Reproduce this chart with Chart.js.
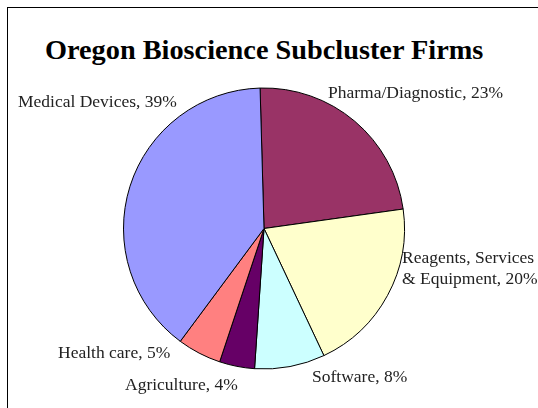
<!DOCTYPE html>
<html><head><meta charset="utf-8">
<script src="https://cdn.jsdelivr.net/npm/chart.js@4"></script>
<style>
html,body{margin:0;padding:0;background:#fff;}
#wrap{position:relative;width:538px;height:408px;overflow:hidden;}
#frame{position:absolute;left:7px;top:7px;width:600px;height:500px;border-left:1px solid #000;border-top:1px solid #000;}
#title{position:absolute;left:45px;top:36px;font:bold 28.3px "Liberation Serif",serif;color:#000;white-space:nowrap;line-height:1;}
canvas{position:absolute;left:0;top:0;}
</style></head>
<body><div id="wrap"><div id="frame"></div>
<div id="title">Oregon Bioscience Subcluster Firms</div>
<canvas id="c" width="538" height="408"></canvas></div>
<script>
const categories = ["Pharma/Diagnostic","Reagents, Services & Equipment","Software","Agriculture","Health care","Medical Devices"];
const shares = [23,20,8,4,5,39];
const colors = ["#993366","#FFFFCC","#CCFFFF","#660066","#FF8080","#9999FF"];
const labelLines = [["Pharma/Diagnostic, 23%"],["Reagents, Services","& Equipment, 20%"],["Software, 8%"],["Agriculture, 4%"],["Health care, 5%"],["Medical Devices, 39%"]];
const labelPos = [[328,93,"left"],[402,258,"left"],[312,377,"left"],[125,385,"left"],[58,353,"left"],[18,102,"left"]];

const labelPlugin = {
  id:'lbl',
  afterDatasetsDraw(chart){
    const ctx = chart.ctx;
    ctx.save();
    ctx.font = '17.5px "Liberation Serif", serif';
    ctx.fillStyle = '#222';
    ctx.textBaseline = 'middle';
    labelLines.forEach((lines,i)=>{
      const [x,y,al] = labelPos[i];
      ctx.textAlign = al;
      lines.forEach((t,j)=>ctx.fillText(t,x,y+j*21));
    });
    ctx.restore();
  }
};

new Chart(document.getElementById('c'),{
  type:'pie',
  data:{labels:categories,datasets:[{data:shares,backgroundColor:colors,borderColor:'#000',borderWidth:1}]},
  options:{
    responsive:false,animation:false,
    rotation:-1.6,
    layout:{padding:{left:123,right:133,top:87,bottom:38}},
    plugins:{legend:{display:false},tooltip:{enabled:false},title:{display:false}}
  },
  plugins:[labelPlugin]
});
</script></body></html>
